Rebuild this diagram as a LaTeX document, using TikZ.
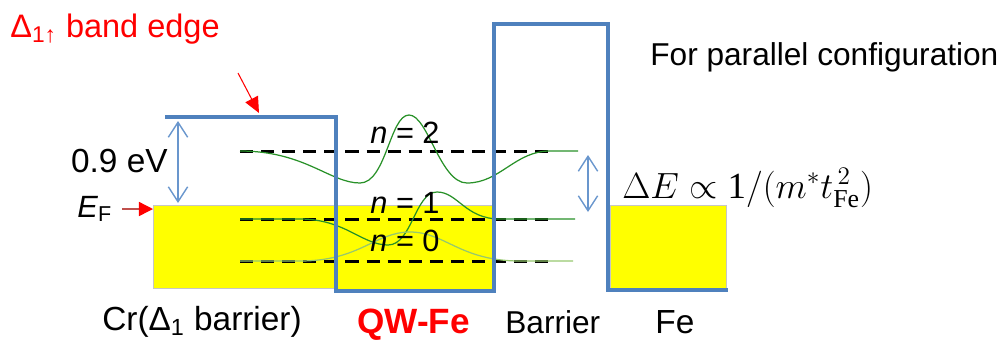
\documentclass[tikz,border=0pt]{standalone}
\usepackage{fontspec}
\setmainfont{Liberation Sans}
\setmathrm{Liberation Serif}
\usetikzlibrary{arrows.meta,positioning}
\definecolor{bandblue}{RGB}{79,129,189}
\definecolor{gapblue}{RGB}{105,150,205}
\definecolor{wavegreen}{RGB}{40,145,40}
\definecolor{wavelight}{RGB}{150,200,110}
\definecolor{seayellow}{RGB}{255,255,0}
\definecolor{shaftred}{RGB}{192,80,77}

\begin{document}
\begin{tikzpicture}[x=0.02cm, y=-0.02cm,
    lbl/.style={font=\fontsize{19}{22}\selectfont, inner sep=0pt, anchor=base west},
    lvllbl/.style={font=\fontsize{17.5}{20}\selectfont, inner sep=0pt},
    sea/.style={fill=seayellow, draw=gray!45, line width=0.4pt},
    band/.style={draw=bandblue, line width=2.8pt, line join=miter},
    level/.style={line width=1.7pt, dash pattern=on 7.5pt off 4.5pt},
    wave/.style={wavegreen, line width=0.7pt},
    gap/.style={{Straight Barb[length=8.5pt,width=11pt]}-{Straight Barb[length=8.5pt,width=11pt]}, gapblue, line width=0.8pt},
    pointer/.style={-{Triangle[length=9pt,width=8pt]}, red, line width=0.6pt}
]
    \useasboundingbox (0,0) rectangle (1008,343);

    \draw[sea] (153,205) rectangle (336,288);
    \draw[sea] (336,205) rectangle (494,291);
    \draw[sea] (610,205) rectangle (726,288);

    \draw[level] (240,151) -- (552,151);
    \draw[level] (240,219) -- (552,219);
    \draw[level] (240,261) -- (552,261);

    \draw[wave] (240,151) .. controls (305,151) and (330,183) .. (360,183)
        .. controls (386,183) and (390,115) .. (409,115)
        .. controls (428,115) and (440,183) .. (467,183)
        .. controls (500,183) and (515,151) .. (550,151) -- (578,151);
    \draw[wave] (240,219) -- (300,219) .. controls (345,219) and (362,245) .. (388,245)
        .. controls (412,245) and (415,192) .. (437,192)
        .. controls (458,192) and (465,219) .. (500,219) -- (575,219);
    \draw[wavelight, line width=0.7pt] (240,261) -- (300,261)
        .. controls (360,261) and (375,232) .. (410,232)
        .. controls (445,232) and (460,261) .. (520,261) -- (573,261);

    \draw[band] (165,117) -- (336,117) -- (336,291) -- (494,291) -- (494,24)
        -- (608,24) -- (608,290) -- (728,290);

    \node[lvllbl] (n2) at (405,133) {\textit{n} = 2};
    \node[lvllbl] (n1) at (405,203) {\textit{n} = 1};
    \node[lvllbl] (n0) at (405,241) {\textit{n} = 0};

    \node[lbl, red, font=\fontsize{18.5}{22}\selectfont] (edge) at (10,37) {Δ\textsubscript{1↑} band edge};
    \coordinate (edgetail) at (238,73);
    \coordinate (edgept) at (259,113);
    \draw[pointer] (edgetail) -- (edgept);

    \node[lbl, anchor=base east] (gaplbl) at (168,172) {0.9 eV};
    \coordinate (gtop) at (178,121);
    \coordinate (gbot) at (178,203);
    \draw[gap] (gtop) -- (gbot);

    \node[lbl, font=\fontsize{17.5}{20}\selectfont] (EF) at (77,217) {\textit{E}\textsubscript{F}};
    \coordinate (eftail) at (122,209);
    \coordinate (efpt) at (153,209);
    \draw[shaftred, line width=0.8pt, -{Triangle[length=8pt,width=8pt,red]}] (eftail) -- (efpt);

    \coordinate (dtop) at (588,155);
    \coordinate (dbot) at (588,212);
    \draw[gap] (dtop) -- (dbot);
    \node[lbl, font=\fontsize{21}{25}\selectfont] (dE) at (622,198) {$\Delta E \propto \mathrm{1}/(m^{*}t_{\mathrm{Fe}}^{\,2})$};

    \node[lbl, font=\fontsize{18}{22}\selectfont] (cfg) at (650,65) {For parallel configuration};

    \node[lbl] (crlbl) at (102,330) {Cr(Δ\textsubscript{1} barrier)};
    \node[lbl, red, font={\fontsize{20}{24}\selectfont\bfseries}] (qwlbl) at (357,333) {QW-Fe};
    \node[lbl, font=\fontsize{18}{22}\selectfont] (barlbl) at (505,333) {Barrier};
    \node[lbl] (felbl) at (655,333) {Fe};
\end{tikzpicture}
\end{document}
